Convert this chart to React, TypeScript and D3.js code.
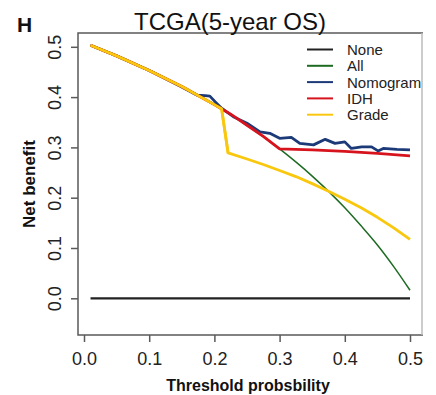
import * as d3 from "d3";
import { useEffect, useRef } from "react";

// threshold probabilities and net benefit
const allX = [0.01, 0.05, 0.1, 0.15, 0.2, 0.25, 0.3, 0.35, 0.4, 0.425, 0.45, 0.475, 0.5];
const allY = [0.503, 0.482, 0.453, 0.421, 0.385, 0.344, 0.297, 0.243, 0.18, 0.144, 0.106, 0.063, 0.016];

const nomoX = [0.01, 0.05, 0.1, 0.147, 0.16, 0.173, 0.186, 0.193, 0.201, 0.211, 0.229, 0.25, 0.27, 0.285, 0.3, 0.318, 0.331, 0.352, 0.37, 0.385, 0.4, 0.41, 0.426, 0.441, 0.451, 0.459, 0.48, 0.5];
const nomoY = [0.503, 0.482, 0.453, 0.422, 0.413, 0.404, 0.403, 0.402, 0.391, 0.378, 0.361, 0.348, 0.331, 0.328, 0.318, 0.32, 0.308, 0.305, 0.316, 0.308, 0.311, 0.298, 0.301, 0.301, 0.293, 0.298, 0.296, 0.295];

const idhX = [0.01, 0.05, 0.1, 0.15, 0.2, 0.225, 0.25, 0.275, 0.3, 0.35, 0.4, 0.45, 0.5];
const idhY = [0.503, 0.482, 0.453, 0.421, 0.385, 0.366, 0.344, 0.322, 0.297, 0.295, 0.292, 0.288, 0.283];

const gradeX = [0.01, 0.05, 0.1, 0.15, 0.2, 0.211, 0.221, 0.25, 0.275, 0.3, 0.325, 0.35, 0.375, 0.4, 0.425, 0.45, 0.475, 0.5];
const gradeY = [0.503, 0.482, 0.453, 0.421, 0.385, 0.377, 0.289, 0.277, 0.266, 0.254, 0.242, 0.228, 0.213, 0.197, 0.18, 0.161, 0.14, 0.117];

const noneX = [0.01, 0.5];
const noneY = [0, 0];

const xTicks = [0, 0.1, 0.2, 0.3, 0.4, 0.5];
const yTicks = [0, 0.1, 0.2, 0.3, 0.4, 0.5];

const legendNames = ["None", "All", "Nomogram", "IDH", "Grade"];
const colors = ["#222222", "#1d6b22", "#1c3a78", "#d7141e", "#f9c80e"];

const FONT = "'Liberation Sans', Arial, sans-serif";

export default function App() {
  const svgRef = useRef<SVGSVGElement | null>(null);

  useEffect(() => {
    if (!svgRef.current) return;
    const svg = d3.select(svgRef.current);
    svg.selectAll("*").remove();

    const width = 436;
    const height = 395;
    const box = { left: 78, right: 423, top: 33, bottom: 335 };

    const x = d3.scaleLinear().domain([0, 0.5]).range([84, 410]);
    const y = d3.scaleLinear().domain([0, 0.5]).range([298.3, 46.8]);

    svg.attr("width", width).attr("height", height);

    svg
      .append("clipPath")
      .attr("id", "crop")
      .append("rect")
      .attr("x", 0)
      .attr("y", 0)
      .attr("width", box.right)
      .attr("height", height);

    const g = svg.append("g").attr("clip-path", "url(#crop)").style("font-family", FONT);

    // box
    g.append("path")
      .attr("d", `M${box.right},${box.top}H${box.left}V${box.bottom}H${box.right}`)
      .attr("fill", "none")
      .attr("stroke", "#5a5a5a")
      .attr("stroke-width", 1.5);
    g.append("line")
      .attr("x1", box.right - 1)
      .attr("x2", box.right - 1)
      .attr("y1", box.top)
      .attr("y2", box.bottom)
      .attr("stroke", "#bbbbbb")
      .attr("stroke-width", 1.5);

    // x axis
    const xAxis = g
      .append("g")
      .attr("transform", `translate(0,${box.bottom})`)
      .call(d3.axisBottom(x).tickValues(xTicks).tickSize(7).tickFormat(d3.format(".1f")));
    xAxis.select(".domain").remove();
    xAxis.selectAll("line").attr("stroke", "#5a5a5a").attr("stroke-width", 1.5);
    xAxis
      .selectAll("text")
      .attr("y", 0)
      .attr("dy", 30)
      .attr("fill", "#222")
      .style("font-family", FONT)
      .style("font-size", "18px");

    // y axis
    const yAxis = g
      .append("g")
      .attr("transform", `translate(${box.left},0)`)
      .call(d3.axisLeft(y).tickValues(yTicks).tickSize(7).tickFormat(d3.format(".1f")));
    yAxis.select(".domain").remove();
    yAxis.selectAll("line").attr("stroke", "#5a5a5a").attr("stroke-width", 1.5);
    yAxis
      .selectAll("text")
      .attr("x", 0)
      .attr("dy", 0)
      .attr("text-anchor", "middle")
      .attr("transform", "translate(-17,0) rotate(-90)")
      .attr("fill", "#222")
      .style("font-family", FONT)
      .style("font-size", "18px");

    // series
    const series = [
      { xs: noneX, ys: noneY, curve: d3.curveLinear, w: 2.2 },
      { xs: allX, ys: allY, curve: d3.curveMonotoneX, w: 1.5 },
      { xs: gradeX, ys: gradeY, curve: d3.curveLinear, w: 2.8 },
      { xs: nomoX, ys: nomoY, curve: d3.curveLinear, w: 2.8 },
      { xs: idhX, ys: idhY, curve: d3.curveLinear, w: 2.8 },
    ];
    const colorIdx = [0, 1, 4, 2, 3];

    series.forEach((s, i) => {
      const pts = s.xs.map((v, j) => [v, s.ys[j]] as [number, number]);
      const line = d3
        .line<[number, number]>()
        .x((d) => x(d[0]))
        .y((d) => y(d[1]))
        .curve(s.curve);
      g.append("path")
        .datum(pts)
        .attr("fill", "none")
        .attr("stroke", colors[colorIdx[i]])
        .attr("stroke-width", s.w)
        .attr("stroke-linejoin", "round")
        .attr("d", line);
    });
    // the grade line sits over the others near the start
    g.append("path")
      .datum(gradeX.slice(0, 7).map((v, j) => [v, gradeY[j]] as [number, number]))
      .attr("fill", "none")
      .attr("stroke", colors[4])
      .attr("stroke-width", 2.8)
      .attr("stroke-linejoin", "round")
      .attr(
        "d",
        d3
          .line<[number, number]>()
          .x((d) => x(d[0]))
          .y((d) => y(d[1]))
      );

    // legend
    const legend = g
      .selectAll(".legend")
      .data(legendNames)
      .join("g")
      .attr("class", "legend")
      .attr("transform", (d, i) => `translate(307,${49.5 + i * 16.3})`);
    legend
      .append("line")
      .attr("x1", 0)
      .attr("x2", 26)
      .attr("stroke", (d, i) => colors[i])
      .attr("stroke-width", 2);
    legend
      .append("text")
      .attr("x", 40)
      .attr("y", 5.5)
      .attr("fill", "#222")
      .style("font-size", "15px")
      .text((d) => d);

    // titles
    g.append("text")
      .attr("x", 230)
      .attr("y", 30)
      .attr("text-anchor", "middle")
      .attr("fill", "#111")
      .style("font-size", "24px")
      .text("TCGA(5-year OS)");

    g.append("text")
      .attr("x", 17)
      .attr("y", 31.5)
      .attr("fill", "#111")
      .style("font-size", "21px")
      .style("font-weight", "bold")
      .text("H");

    g.append("text")
      .attr("x", 248)
      .attr("y", 391)
      .attr("text-anchor", "middle")
      .attr("fill", "#111")
      .style("font-size", "16px")
      .style("font-weight", "bold")
      .text("Threshold probsbility");

    g.append("text")
      .attr("transform", "translate(35,184) rotate(-90)")
      .attr("text-anchor", "middle")
      .attr("fill", "#111")
      .style("font-size", "17px")
      .style("font-weight", "bold")
      .text("Net benefit");
  }, []);

  return <svg ref={svgRef} style={{ position: "absolute", left: 0, top: 0 }}></svg>;
}
